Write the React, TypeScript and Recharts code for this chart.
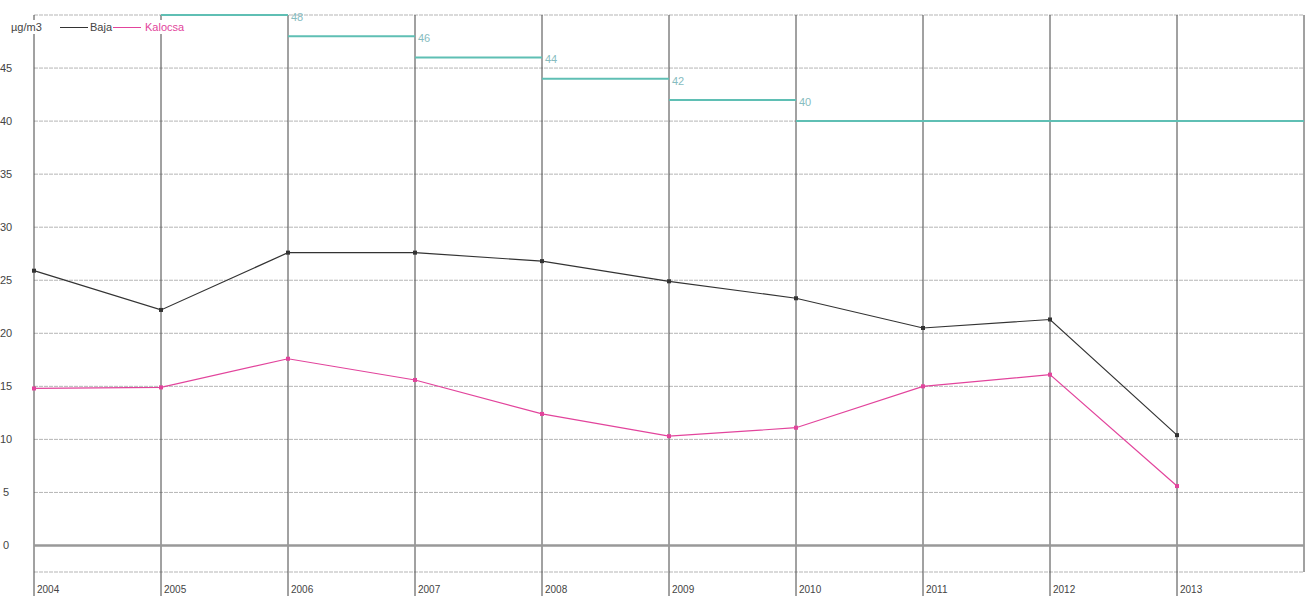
import { LineChart, Line, XAxis, YAxis, CartesianGrid, ReferenceLine } from 'recharts'

const years = [2004, 2005, 2006, 2007, 2008, 2009, 2010, 2011, 2012, 2013]
const baja = [25.9, 22.2, 27.6, 27.6, 26.8, 24.9, 23.3, 20.5, 21.3, 10.4]
const kalocsa = [14.8, 14.9, 17.6, 15.6, 12.4, 10.3, 11.1, 15.0, 16.1, 5.6]

// limit value steps (start year, end year, value)
const limitStart = [2005, 2006, 2007, 2008, 2009, 2010]
const limitEnd = [2006, 2007, 2008, 2009, 2010, 2014]
const limitValues = [50, 48, 46, 44, 42, 40]

const xTicks = [2004, 2005, 2006, 2007, 2008, 2009, 2010, 2011, 2012, 2013, 2014]
const yTicks = [-2.5, 0, 5, 10, 15, 20, 25, 30, 35, 40, 45, 50]

const data = years.map((year, i) => ({ year, baja: baja[i], kalocsa: kalocsa[i] }))

const FONT = '"Liberation Sans", Arial, sans-serif'
const TEAL = '#5fbfb4'
const PINK = '#e2449c'
const DARK = '#333'

function SquareDot({ cx, cy, color }: { cx?: number; cy?: number; color: string }) {
  if (cx == null || cy == null) return null
  return <rect x={cx - 2} y={cy - 2} width={4} height={4} fill={color} />
}

function YearTick({ x, y, payload }: any) {
  if (payload.value === 2014) return null
  return (
    <g>
      <line x1={x} x2={x} y1={y - 8} y2={y + 18} stroke="#444" strokeWidth={1} />
      <text x={x + 3} y={y + 13} fontSize={10} fill="#444" fontFamily={FONT}>
        {payload.value}
      </text>
    </g>
  )
}

function ValueTick({ x, y, payload }: any) {
  const v = payload.value
  if (v < 0 || v > 45) return null
  return (
    <text x={x - 20} y={y + 4} textAnchor="middle" fontSize={11} fill="#444" fontFamily={FONT}>
      {v}
    </text>
  )
}

function limitLabel(i: number) {
  return (props: any) => {
    const { x, y, index } = props
    if (index !== 1 || i + 1 >= limitValues.length) return null
    return (
      <text x={x + 3} y={y + 6} fontSize={11} fill="#86bcc0" fontFamily={FONT}>
        {limitValues[i + 1]}
      </text>
    )
  }
}

function Legend() {
  const item: React.CSSProperties = { position: 'absolute', top: 20, fontSize: 11, fontFamily: FONT, background: '#fff', lineHeight: '14px' }
  return (
    <>
      <div style={{ ...item, left: 11, color: '#444', paddingRight: 4 }}>µg/m3</div>
      <div style={{ position: 'absolute', left: 60, top: 27, width: 28, height: 1, background: DARK }} />
      <div style={{ ...item, left: 90, color: '#444' }}>Baja</div>
      <div style={{ position: 'absolute', left: 113, top: 27, width: 28, height: 1, background: PINK }} />
      <div style={{ ...item, left: 145, color: PINK, paddingRight: 2 }}>Kalocsa</div>
    </>
  )
}

export default function App() {
  return (
    <div style={{ position: 'absolute', left: 0, top: 0, width: 1307, height: 596, background: '#fff' }}>
      <LineChart width={1307} height={596} data={data} margin={{ top: 15, right: 3, left: 0, bottom: 0 }}>
        <CartesianGrid vertical={false} stroke="#b5b5b5" strokeDasharray="4 1" />
        <CartesianGrid horizontal={false} stroke="#444" strokeWidth={1} />
        <XAxis
          dataKey="year"
          type="number"
          domain={[2004, 2014]}
          ticks={xTicks}
          axisLine={false}
          tickLine={false}
          height={24}
          tick={<YearTick />}
          interval={0}
        />
        <YAxis
          type="number"
          domain={[-2.5, 50]}
          ticks={yTicks}
          axisLine={false}
          tickLine={false}
          width={34}
          tick={<ValueTick />}
          interval={0}
        />
        <ReferenceLine y={0} stroke="#999" strokeWidth={2.5} />
        {limitValues.map((v, i) => (
          <Line
            key={'lim' + i}
            data={[
              { year: limitStart[i], limit: v },
              { year: limitEnd[i], limit: v },
            ]}
            dataKey="limit"
            stroke={TEAL}
            strokeWidth={2}
            dot={false}
            label={limitLabel(i)}
            isAnimationActive={false}
          />
        ))}
        <Line
          dataKey="baja"
          stroke={DARK}
          strokeWidth={1.2}
          dot={<SquareDot color={DARK} />}
          isAnimationActive={false}
        />
        <Line
          dataKey="kalocsa"
          stroke={PINK}
          strokeWidth={1.2}
          dot={<SquareDot color={PINK} />}
          isAnimationActive={false}
        />
      </LineChart>
      <Legend />
    </div>
  )
}
